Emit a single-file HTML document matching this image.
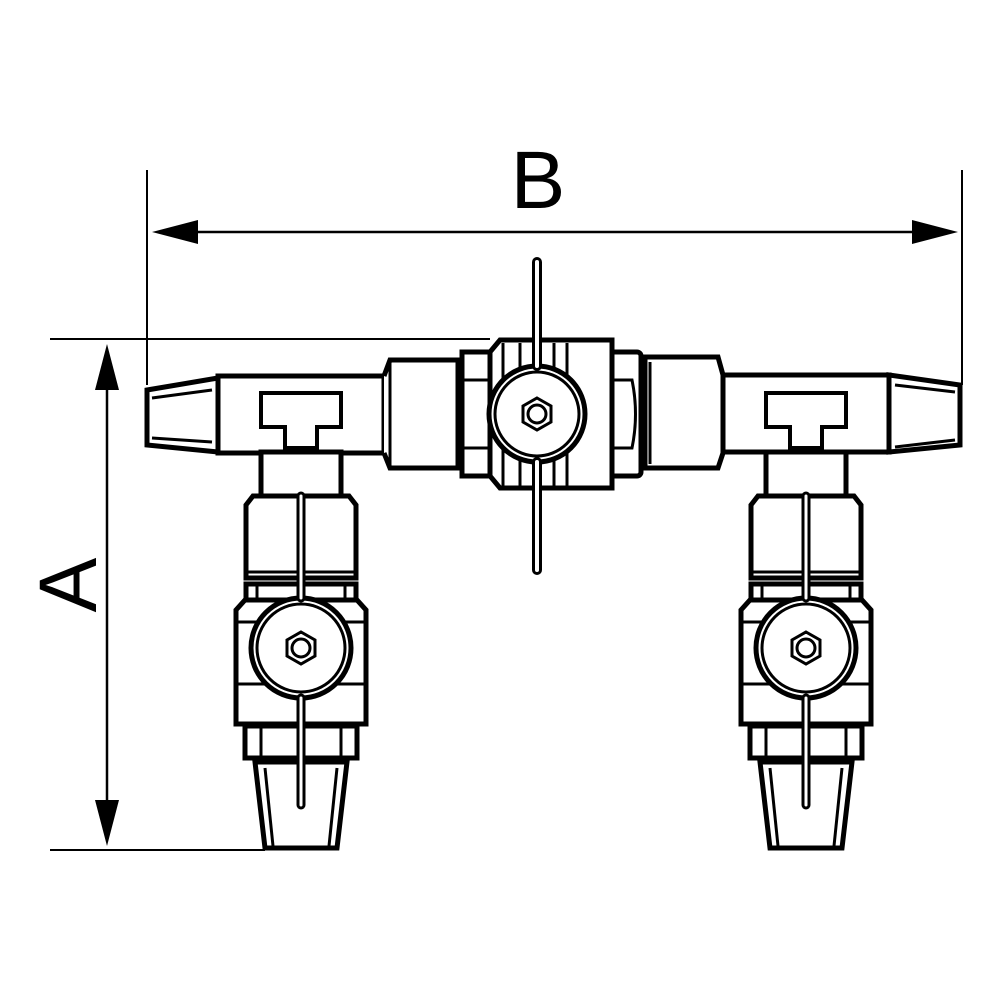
<!DOCTYPE html>
<html><head><meta charset="utf-8"><style>
html,body{margin:0;padding:0;background:#fff;width:1000px;height:1000px;overflow:hidden}
svg{display:block}
</style></head><body>
<svg width="1000" height="1000" viewBox="0 0 1000 1000" xmlns="http://www.w3.org/2000/svg">
<defs>
<g id="branch">
  <!-- stem -->
  <rect x="-40" y="452" width="80" height="46" fill="#fff" stroke="#000" stroke-width="5"/>
  <!-- upper nut -->
  <path d="M-55,505 L-48,496 L48,496 L55,505 L55,578 L-55,578 Z" fill="#fff" stroke="#000" stroke-width="5"/>
  <line x1="-55" y1="572" x2="55" y2="572" stroke="#000" stroke-width="3"/>
  <!-- top nut of valve -->
  <rect x="-55" y="584" width="110" height="24" fill="#fff" stroke="#000" stroke-width="5"/>
  <line x1="-44" y1="584" x2="-44" y2="608" stroke="#000" stroke-width="3"/>
  <line x1="44" y1="584" x2="44" y2="608" stroke="#000" stroke-width="3"/>
  <!-- valve body -->
  <path d="M-65,610 L-56,600 L56,600 L65,610 L65,724 L-65,724 Z" fill="#fff" stroke="#000" stroke-width="5"/>
  <line x1="-65" y1="622" x2="65" y2="622" stroke="#000" stroke-width="3"/>
  <line x1="-65" y1="684" x2="65" y2="684" stroke="#000" stroke-width="3"/>
  <circle cx="0" cy="648" r="50" fill="#fff" stroke="#000" stroke-width="5"/>
  <circle cx="0" cy="648" r="44" fill="none" stroke="#000" stroke-width="3"/>
  <polygon points="0,632 14,640 14,656 0,664 -14,656 -14,640" fill="#fff" stroke="#000" stroke-width="3"/>
  <circle cx="0" cy="648" r="9" fill="none" stroke="#000" stroke-width="3"/>
  <!-- bottom nut -->
  <rect x="-56" y="726" width="112" height="32" fill="#fff" stroke="#000" stroke-width="5"/>
  <line x1="-40" y1="726" x2="-40" y2="758" stroke="#000" stroke-width="3"/>
  <line x1="40" y1="726" x2="40" y2="758" stroke="#000" stroke-width="3"/>
  <!-- taper -->
  <path d="M-46,762 L46,762 L36,848 L-36,848 Z" fill="#fff" stroke="#000" stroke-width="5"/>
  <line x1="-36" y1="768" x2="-28" y2="846" stroke="#000" stroke-width="3"/>
  <line x1="36" y1="768" x2="28" y2="846" stroke="#000" stroke-width="3"/>
  <!-- handle -->
  <line x1="0" y1="496" x2="0" y2="598" stroke="#000" stroke-width="9" stroke-linecap="round"/>
  <line x1="0" y1="496" x2="0" y2="598" stroke="#fff" stroke-width="3" stroke-linecap="round"/>
  <line x1="0" y1="698" x2="0" y2="805" stroke="#000" stroke-width="9" stroke-linecap="round"/>
  <line x1="0" y1="698" x2="0" y2="805" stroke="#fff" stroke-width="3" stroke-linecap="round"/>
</g>
<g id="tee">
  <path d="M-40,393 L40,393 L40,427 L16,427 L16,448 L-16,448 L-16,427 L-40,427 Z" fill="#fff" stroke="#000" stroke-width="4"/>
</g>
</defs>

<!-- dimension B -->
<line x1="147" y1="170" x2="147" y2="385" stroke="#000" stroke-width="2"/>
<line x1="962" y1="170" x2="962" y2="385" stroke="#000" stroke-width="2"/>
<line x1="190" y1="232" x2="920" y2="232" stroke="#000" stroke-width="2.5"/>
<polygon points="152,232 198,220 198,244" fill="#000"/>
<polygon points="958,232 912,220 912,244" fill="#000"/>
<text x="538" y="208" font-family="Liberation Sans, sans-serif" font-size="82" text-anchor="middle">B</text>

<!-- dimension A -->
<line x1="50" y1="339" x2="490" y2="339" stroke="#000" stroke-width="2"/>
<line x1="50" y1="850" x2="265" y2="850" stroke="#000" stroke-width="2"/>
<line x1="107" y1="390" x2="107" y2="805" stroke="#000" stroke-width="2.5"/>
<polygon points="107,344 95,390 119,390" fill="#000"/>
<polygon points="107,846 95,800 119,800" fill="#000"/>
<text x="0" y="0" transform="translate(96,585) rotate(-90)" font-family="Liberation Sans, sans-serif" font-size="82" text-anchor="middle">A</text>

<!-- main pipe left -->
<path d="M147,390 L218,378 L218,452 L147,445 Z" fill="#fff" stroke="#000" stroke-width="5"/>
<path d="M152,398 L212,390 M152,438 L212,442" stroke="#000" stroke-width="3" fill="none"/>
<rect x="218" y="376" width="166" height="77" fill="#fff" stroke="#000" stroke-width="5"/>
<path d="M384,376 L390,360 L458,360 L458,468 L390,468 L384,453" fill="#fff" stroke="#000" stroke-width="5"/>
<line x1="390" y1="360" x2="390" y2="468" stroke="#000" stroke-width="3"/>
<rect x="462" y="352" width="28" height="124" fill="#fff" stroke="#000" stroke-width="5"/>
<line x1="462" y1="380" x2="490" y2="380" stroke="#000" stroke-width="3"/>
<line x1="462" y1="448" x2="490" y2="448" stroke="#000" stroke-width="3"/>

<!-- right main pipe -->
<rect x="601" y="352" width="40" height="124" rx="4" fill="#fff" stroke="#000" stroke-width="5"/>
<path d="M611,380 Q604,414 611,448 L632,448 Q639,414 632,380 Z" fill="none" stroke="#000" stroke-width="3"/>
<path d="M645,357 L718,357 L723,375 L723,453 L718,468 L645,468 Z" fill="#fff" stroke="#000" stroke-width="5"/>
<line x1="650" y1="362" x2="650" y2="464" stroke="#000" stroke-width="3"/>
<rect x="723" y="375" width="166" height="77" fill="#fff" stroke="#000" stroke-width="5"/>
<path d="M889,375 L960,385 L960,445 L889,452 Z" fill="#fff" stroke="#000" stroke-width="5"/>
<path d="M895,385 L955,392 M895,447 L955,440" stroke="#000" stroke-width="3" fill="none"/>

<!-- center valve -->
<path d="M490,352 L500,340 L612,340 L612,488 L500,488 L490,476 Z" fill="#fff" stroke="#000" stroke-width="5"/>
<line x1="503" y1="343" x2="503" y2="486" stroke="#000" stroke-width="3"/>
<line x1="520" y1="343" x2="520" y2="486" stroke="#000" stroke-width="3"/>
<line x1="554" y1="343" x2="554" y2="486" stroke="#000" stroke-width="3"/>
<line x1="567" y1="343" x2="567" y2="486" stroke="#000" stroke-width="3"/>
<circle cx="537" cy="414" r="48" fill="#fff" stroke="#000" stroke-width="5"/>
<circle cx="537" cy="414" r="42" fill="none" stroke="#000" stroke-width="3"/>
<polygon points="537,398 551,406 551,422 537,430 523,422 523,406" fill="#fff" stroke="#000" stroke-width="3"/>
<circle cx="537" cy="414" r="9" fill="none" stroke="#000" stroke-width="3"/>
<line x1="537" y1="262" x2="537" y2="366" stroke="#000" stroke-width="10" stroke-linecap="round"/>
<line x1="537" y1="262" x2="537" y2="366" stroke="#fff" stroke-width="4" stroke-linecap="round"/>
<line x1="537" y1="462" x2="537" y2="570" stroke="#000" stroke-width="10" stroke-linecap="round"/>
<line x1="537" y1="462" x2="537" y2="570" stroke="#fff" stroke-width="4" stroke-linecap="round"/>

<!-- branches -->
<g transform="translate(301,0)"><use href="#branch"/><use href="#tee"/></g>
<g transform="translate(806,0)"><use href="#branch"/><use href="#tee"/></g>
</svg>
</body></html>
